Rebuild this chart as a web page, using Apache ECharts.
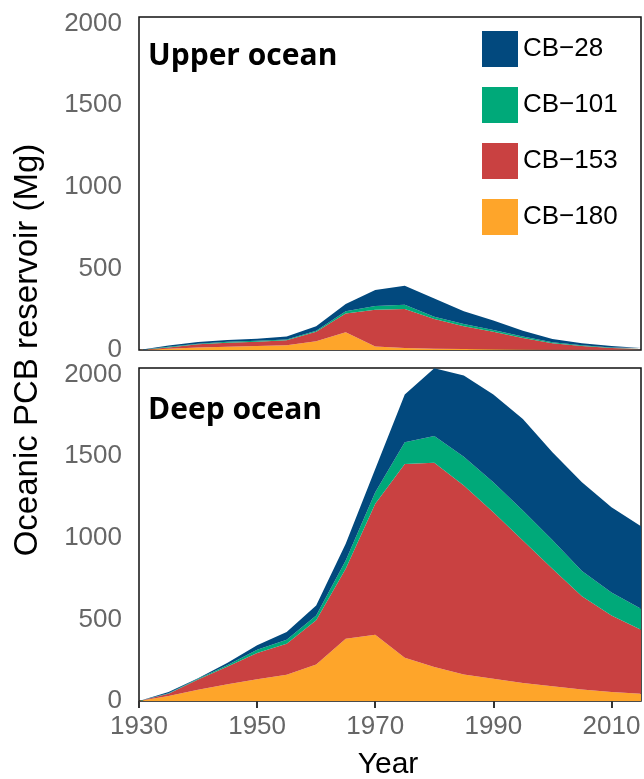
<!DOCTYPE html>
<html>
<head>
<meta charset="utf-8">
<script src="https://cdn.jsdelivr.net/npm/echarts@6/dist/echarts.min.js"></script>
<style>
  html, body { margin: 0; padding: 0; background: #fff; }
  #main { width: 644px; height: 779px; }
</style>
</head>
<body>
<div id="main"></div>
<script>
// years, one point every 5 years
const years = ['1930', '1935', '1940', '1945', '1950', '1955', '1960', '1965', '1970', '1975', '1980', '1985', '1990', '1995', '2000', '2005', '2010', '2015']
const congeners = ['CB−28', 'CB−101', 'CB−153', 'CB−180']
const colors = ['#02497e', '#00a979', '#c94141', '#fea52a']

// upper ocean (Mg)
const upper28 = [0, 7, 10, 10, 12, 17, 27, 45, 98, 117, 112, 78, 58, 36, 20, 12, 8, 4]
const upper101 = [0, 4, 4, 6, 6, 6, 6, 13, 22, 26, 14, 14, 10, 9, 6, 5, 4, 2]
const upper153 = [0, 8, 19, 25, 27, 30, 59, 116, 225, 239, 182, 139, 108, 70, 39, 23, 11, 6]
const upper180 = [0, 8, 16, 20, 24, 29, 53, 108, 22, 12, 8, 6, 4, 3, 2, 1, 1, 0]

// deep ocean (Mg)
const deep28 = [0, 7, 4, 15, 27, 47, 61, 102, 143, 292, 414, 497, 537, 561, 537, 544, 522, 506]
const deep101 = [0, 3, 5, 8, 20, 24, 30, 51, 71, 133, 165, 177, 183, 184, 177, 155, 141, 128]
const deep153 = [0, 14, 62, 110, 161, 190, 270, 429, 802, 1187, 1251, 1157, 1020, 873, 720, 570, 469, 392]
const deep180 = [0, 31, 69, 102, 133, 161, 224, 381, 406, 265, 208, 163, 137, 110, 90, 71, 55, 45]

const yTicks = [0, 500, 1000, 1500, 2000]

const tickFont = 'Liberation Sans'

let chart = echarts.init(document.getElementById('main'))

// stacked area series for one panel, bottom layer first
function panelSeries(idx, stackName, values) {
    // values in order 28,101,153,180 -> draw 180 first
    let out = []
    for (let k = 3; k >= 0; k--) {
        out.push({
            name: congeners[k],
            type: 'line',
            xAxisIndex: idx,
            yAxisIndex: idx,
            stack: stackName,
            symbol: 'none',
            lineStyle: { width: 0 },
            itemStyle: { color: colors[k] },
            areaStyle: { color: colors[k], opacity: 1 },
            data: values[k]
        })
    }
    return out
}

function xAxis(idx, showLabels) {
    return {
        type: 'category',
        gridIndex: idx,
        data: years,
        boundaryGap: false,
        splitLine: { show: false },
        axisLine: { show: false },
        axisTick: {
            show: showLabels,
            interval: 3,
            length: 7,
            lineStyle: { color: '#333', width: 2 }
        },
        axisLabel: {
            show: showLabels,
            interval: 3,
            margin: 13,
            fontSize: 26,
            fontFamily: tickFont,
            color: '#666'
        }
    }
}

function yAxis(idx) {
    return {
        type: 'value',
        gridIndex: idx,
        min: 0,
        max: 2040,
        splitLine: { show: false },
        axisLine: { show: false },
        axisTick: {
            length: 7,
            customValues: yTicks,
            lineStyle: { color: '#333', width: 2 }
        },
        axisLabel: {
            customValues: yTicks,
            formatter: v => String(v),
            margin: 17,
            fontSize: 26,
            fontFamily: tickFont,
            color: '#666'
        }
    }
}

chart.setOption({
    animation: false,
    grid: [
        { left: 139, right: 3, top: 17, height: 333, show: true, borderColor: '#111', borderWidth: 1.5, backgroundColor: '#fff' },
        { left: 139, right: 3, top: 368, height: 333, show: true, borderColor: '#111', borderWidth: 1.5, backgroundColor: '#fff' }
    ],
    xAxis: [xAxis(0, false), xAxis(1, true)],
    yAxis: [yAxis(0), yAxis(1)],
    legend: {
        data: congeners,
        orient: 'vertical',
        left: 477,
        top: 26,
        icon: 'rect',
        itemWidth: 36,
        itemHeight: 36,
        itemGap: 20,
        textStyle: { fontSize: 26, fontFamily: tickFont, color: '#000' }
    },
    graphic: [
        {
            type: 'text', left: 148, top: 41,
            style: { text: 'Upper ocean', font: 'bold 30px "Open Sans"', fill: '#000' }
        },
        {
            type: 'text', left: 148, top: 395,
            style: { text: 'Deep ocean', font: 'bold 30px "Open Sans"', fill: '#000' }
        },
        {
            type: 'text', x: 28, y: 350, rotation: Math.PI / 2,
            style: { text: 'Oceanic PCB reservoir (Mg)', font: '33px "Liberation Sans"', fill: '#000', align: 'center', verticalAlign: 'middle' }
        },
        {
            type: 'text', x: 388, y: 765,
            style: { text: 'Year', font: '30px "Liberation Sans"', fill: '#000', align: 'center', verticalAlign: 'middle' }
        }
    ],
    series: [
        ...panelSeries(0, 'upper', [upper28, upper101, upper153, upper180]),
        ...panelSeries(1, 'deep', [deep28, deep101, deep153, deep180])
    ]
})
</script>
</body>
</html>
